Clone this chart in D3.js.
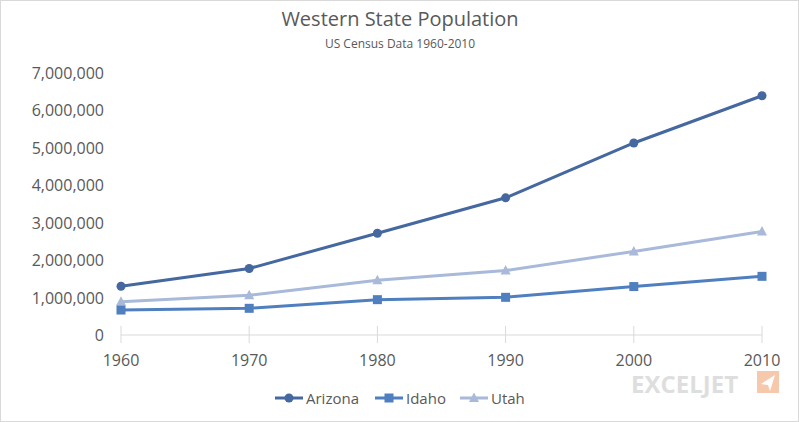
<!DOCTYPE html>
<html><head><meta charset="utf-8">
<script src="https://d3js.org/d3.v7.min.js"></script>
<style>body{margin:0;background:#fff}svg{display:block}text{font-family:"Open Sans","Noto Sans",sans-serif}</style>
</head><body><svg id="c" width="799" height="422"></svg>
<script>
const years = [1960, 1970, 1980, 1990, 2000, 2010];
const arizona = [1302161, 1775399, 2718425, 3665228, 5130632, 6392017];
const idaho = [667191, 713008, 944127, 1006749, 1293953, 1567582];
const utah = [890627, 1059273, 1461037, 1722850, 2233169, 2763885];
const yTicks = [0, 1000000, 2000000, 3000000, 4000000, 5000000, 6000000, 7000000];

const series = [
  {name: "Arizona", values: arizona, color: "#44689f", shape: "circle"},
  {name: "Idaho", values: idaho, color: "#4f7fbf", shape: "square"},
  {name: "Utah", values: utah, color: "#a8b9d9", shape: "triangle"}
];

const svg = d3.select("#c");
svg.append("rect").attr("x", 0.5).attr("y", 0.5).attr("width", 798).attr("height", 421)
  .attr("fill", "none").attr("stroke", "#d9d9d9");

const x = d3.scaleLinear().domain([1960, 2010]).range([121, 762]);
const y = d3.scaleLinear().domain([0, 7000000]).range([335, 73]);

svg.append("text").attr("x", 400).attr("y", 26).attr("text-anchor", "middle")
  .attr("font-size", 20).attr("fill", "#595959").text("Western State Population");
svg.append("text").attr("x", 400).attr("y", 48).attr("text-anchor", "middle")
  .attr("font-size", 12).attr("fill", "#595959").text("US Census Data 1960-2010");

// y labels
svg.selectAll(".yl").data(yTicks).enter().append("text")
  .attr("x", 104).attr("y", d => y(d) + 6).attr("text-anchor", "end")
  .attr("font-size", 16).attr("fill", "#595959").text(d3.format(","));

// x axis
svg.append("line").attr("x1", x(1960)).attr("x2", x(2010)).attr("y1", y(0)).attr("y2", y(0))
  .attr("stroke", "#d9d9d9");
svg.selectAll(".xt").data(years).enter().append("line")
  .attr("x1", d => x(d)).attr("x2", d => x(d)).attr("y1", y(0) - 9).attr("y2", y(0) + 8)
  .attr("stroke", "#d9d9d9");
svg.selectAll(".xl").data(years).enter().append("text")
  .attr("x", d => x(d)).attr("y", 366).attr("text-anchor", "middle")
  .attr("font-size", 16).attr("fill", "#595959").text(d => d);

function marker(g, shape, color, cx, cy) {
  if (shape === "circle") g.append("circle").attr("cx", cx).attr("cy", cy).attr("r", 4.5).attr("fill", color);
  else if (shape === "square") g.append("rect").attr("x", cx - 4.5).attr("y", cy - 4.5).attr("width", 9).attr("height", 9).attr("fill", color);
  else g.append("path").attr("d", `M${cx},${cy - 5.5}L${cx + 5},${cy + 4}L${cx - 5},${cy + 4}Z`).attr("fill", color);
}

const line = d3.line().x((d, i) => x(years[i])).y(d => y(d));
series.slice().reverse().forEach(s => {
  const g = svg.append("g");
  g.append("path").attr("d", line(s.values)).attr("fill", "none").attr("stroke", s.color).attr("stroke-width", 3);
  s.values.forEach((v, i) => marker(g, s.shape, s.color, x(years[i]), y(v)));
});

// legend
const lx = [275, 375, 460];
series.forEach((s, i) => {
  const g = svg.append("g");
  g.append("line").attr("x1", lx[i]).attr("x2", lx[i] + 28).attr("y1", 398).attr("y2", 398)
    .attr("stroke", s.color).attr("stroke-width", 3);
  marker(g, s.shape, s.color, lx[i] + 14, 398);
  g.append("text").attr("x", lx[i] + 31).attr("y", 404).attr("font-size", 15).attr("fill", "#595959").text(s.name);
});

// watermark
svg.append("text").attr("x", 631).attr("y", 393).attr("font-size", 24).attr("font-weight", "bold")
  .attr("fill", "#dedede").attr("font-family", "Arial, sans-serif").text("EXCELJET");
svg.append("rect").attr("x", 757).attr("y", 371).attr("width", 22).attr("height", 22).attr("fill", "#f6c9ad");
svg.append("path").attr("d", "M775,375L761,384L768,385L770,391Z").attr("fill", "#fff");
</script></body></html>
